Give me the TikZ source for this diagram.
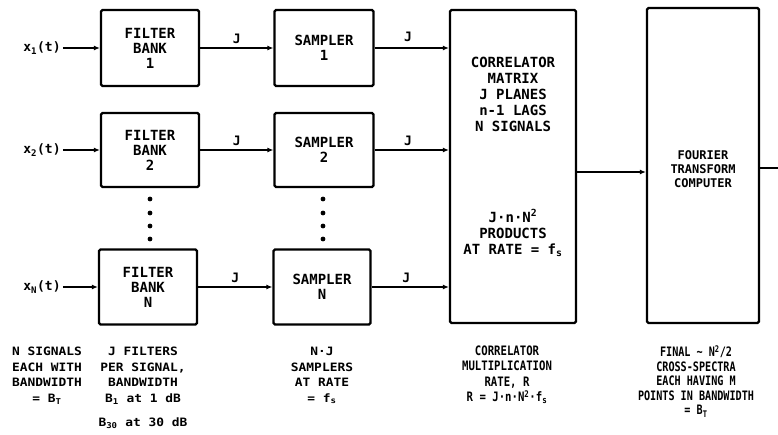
\documentclass[tikz,border=0pt]{standalone}
\usepackage{fontspec}
\newfontfamily\boxfont{DejaVu Sans Mono}
\newfontfamily\notefont{DejaVu Sans Mono}[FakeStretch=1.12]
\newfontfamily\notebfont{DejaVu Sans Mono}[FakeStretch=0.82]
\newfontfamily\notecfont{DejaVu Sans Mono}[FakeStretch=0.78]
\usetikzlibrary{arrows.meta}
\begin{document}
\begin{tikzpicture}[x=1pt,y=-1pt,
  blk/.style={draw,line width=2.2pt,rounded corners=1.5pt,align=center,inner sep=0pt,
    font=\boxfont\bfseries\fontsize{14}{15}\selectfont},
  btxt/.style={align=center,inner sep=0pt,font=\boxfont\bfseries\fontsize{14}{16}\selectfont},
  ftxt/.style={align=center,inner sep=0pt,font=\boxfont\bfseries\fontsize{12}{14}\selectfont},
  lbl/.style={inner sep=2pt,font=\boxfont\bfseries\fontsize{13}{14}\selectfont},
  note/.style={align=center,inner sep=0pt,anchor=north,font=\notefont\bfseries\fontsize{11.5}{15.5}\selectfont},
  noteb/.style={note,font=\notebfont\bfseries\fontsize{13}{15.5}\selectfont},
  notec/.style={note,font=\notecfont\bfseries\fontsize{13}{14.5}\selectfont},
  arr/.style={line width=2.2pt,-{Latex[length=6pt,width=5pt]}},
  wire/.style={line width=2.2pt}]
\useasboundingbox (0,0) rectangle (778,434);

% filter banks
\node[blk,minimum width=98pt,minimum height=76pt] (fb1) at (150,48) {FILTER\\BANK\\1};
\node[blk,minimum width=98pt,minimum height=74pt] (fb2) at (150,150) {FILTER\\BANK\\2};
\node[blk,minimum width=98pt,minimum height=75pt] (fbN) at (148,287) {FILTER\\BANK\\N};
% samplers
\node[blk,minimum width=99pt,minimum height=76pt] (s1) at (324,48) {SAMPLER\\1};
\node[blk,minimum width=99pt,minimum height=74pt] (s2) at (324,150) {SAMPLER\\2};
\node[blk,minimum width=97pt,minimum height=75pt] (sN) at (322,287) {SAMPLER\\N};
% correlator and Fourier
\node[blk,minimum width=126pt,minimum height=313pt] (corr) at (513,166.5) {};
\node[blk,minimum width=112pt,minimum height=315pt] (fft) at (703,165.5) {};
\node[btxt] (ct1) at (513,94) {CORRELATOR\\MATRIX\\J PLANES\\n-1 LAGS\\N SIGNALS};
\node[btxt] (ct2) at (513,233) {J·n·N\textsuperscript{2}\\PRODUCTS\\AT RATE = f\textsubscript{s}};
\node[ftxt] (ft) at (703,169) {FOURIER\\TRANSFORM\\COMPUTER};

% inputs
\node[lbl] (x1) at (42,48) {x\textsubscript{1}(t)};
\node[lbl] (x2) at (42,150) {x\textsubscript{2}(t)};
\node[lbl] (xN) at (42,287) {x\textsubscript{N}(t)};
\draw[arr] (x1.east) -- (fb1.west |- x1.east);
\draw[arr] (x2.east) -- (fb2.west |- x2.east);
\draw[arr] (xN.east) -- (fbN.west |- xN.east);

% filter -> sampler
\draw[arr] (fb1.east) -- (s1.west |- fb1.east) node[lbl,midway,above=1pt] (j1) {J};
\draw[arr] (fb2.east) -- (s2.west |- fb2.east) node[lbl,midway,above=1pt] (j2) {J};
\draw[arr] (fbN.east) -- (sN.west |- fbN.east) node[lbl,midway,above=1pt] (j3) {J};

% sampler -> correlator
\draw[arr] (s1.east) -- (corr.west |- s1.east) node[lbl,pos=0.45,above=3pt] (j4) {J};
\draw[arr] (s2.east) -- (corr.west |- s2.east) node[lbl,pos=0.45,above=1pt] (j5) {J};
\draw[arr] (sN.east) -- (corr.west |- sN.east) node[lbl,pos=0.45,above=1pt] (j6) {J};

% correlator -> Fourier -> out
\draw[arr] ([yshift=-5.5pt]corr.east) coordinate (m) -- (fft.west |- m);
\coordinate (out) at (778,168);
\draw[wire] (fft.east |- out) -- (out);

% ellipsis dots
\foreach \y in {199,213,226,239} {
  \fill (150,\y) circle (2.4pt);
  \fill (323,\y) circle (2.4pt);
}

% notes
\node[note] (n1) at (47,347) {N SIGNALS\\EACH WITH\\BANDWIDTH\\= B\textsubscript{T}};
\node[note] (n2) at (143,347) {J FILTERS\\PER SIGNAL,\\BANDWIDTH\\B\textsubscript{1} at 1 dB\\[9pt]B\textsubscript{30} at 30 dB};
\node[note] (n3) at (322,347) {N·J\\SAMPLERS\\AT RATE\\= f\textsubscript{s}};
\node[noteb] (n4) at (507,345.5) {CORRELATOR\\MULTIPLICATION\\RATE, R\\R = J·n·N\textsuperscript{2}·f\textsubscript{s}};
\node[notec] (n5) at (696,345.5) {FINAL ∼ N\textsuperscript{2}/2\\CROSS-SPECTRA\\EACH HAVING M\\POINTS IN BANDWIDTH\\= B\textsubscript{T}};
\end{tikzpicture}
\end{document}
